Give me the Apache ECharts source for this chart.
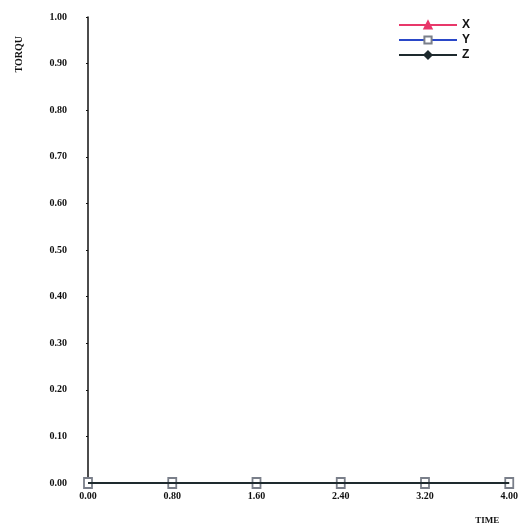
<!DOCTYPE html>
<html><head><meta charset="utf-8">
<script src="https://cdn.jsdelivr.net/npm/echarts@6/dist/echarts.min.js"></script>
<style>html,body{margin:0;padding:0;background:#fff}#c{width:521px;height:532px}</style>
</head><body><div id="c"></div>
<script>
const times = [0, 0.8, 1.6, 2.4, 3.2, 4.0];
const seriesNames = ['X', 'Y', 'Z'];
const xValues = [0, 0, 0, 0, 0, 0];
const yValues = [0, 0, 0, 0, 0, 0];
const zValues = [0, 0, 0, 0, 0, 0];
const colors = ['#e8386a', '#2a48c8', '#1e2a2e'];
const symbols = ['triangle', 'emptyRect', 'diamond'];
const valuesList = [xValues, yValues, zValues];

const font = {fontFamily: 'Liberation Serif', fontWeight: 'bold', fontSize: 10, color: '#111'};
const chart = echarts.init(document.getElementById('c'));
chart.setOption({
  animation: false,
  backgroundColor: '#fff',
  grid: {left: 88, right: 8, top: 17, bottom: 49},
  legend: {
    orient: 'vertical', right: 46, top: 14, itemWidth: 58, itemHeight: 9, itemGap: 3,
    data: seriesNames,
    textStyle: {fontFamily: 'Liberation Sans', fontWeight: 'bold', fontSize: 12, lineHeight: 11, color: '#111', padding: [0,0,0,0]}
  },
  graphic: [{
    type: 'text', left: 14, top: 36, rotation: Math.PI / 2,
    style: {text: 'TORQU', font: 'bold 10px "Liberation Serif"', fill: '#111'}
  }],
  xAxis: {
    type: 'value', min: 0, max: 4, interval: 0.8,
    name: 'TIME', nameLocation: 'end', nameGap: 0,
    nameTextStyle: Object.assign({}, font, {fontSize: 9, align: 'right', verticalAlign: 'top', padding: [33, 10, 0, 0]}),
    axisLine: {lineStyle: {color: '#111', width: 2}},
    axisTick: {show: false},
    splitLine: {show: false},
    axisLabel: Object.assign({}, font, {margin: 8, formatter: v => v.toFixed(2)})
  },
  yAxis: {
    type: 'value', min: 0, max: 1, interval: 0.1,
    axisLine: {lineStyle: {color: '#111', width: 1.5}},
    axisTick: {show: true, inside: false, length: 2, lineStyle: {color: '#111'}},
    splitLine: {show: false},
    axisLabel: Object.assign({}, font, {margin: 21, formatter: v => v.toFixed(2)})
  },
  series: seriesNames.map((n, i) => ({
    name: n, type: 'line',
    data: times.map((t, k) => [t, valuesList[i][k]]),
    symbol: symbols[i], symbolSize: i === 1 ? [8, 10] : 6, showSymbol: i === 1,
    itemStyle: {color: i === 1 ? '#7a7f8a' : colors[i], borderColor: i === 1 ? '#7a7f8a' : colors[i], borderWidth: 1.5},
    lineStyle: {color: colors[i], width: 2},
    z: 2 + i
  }))
});
</script></body></html>
